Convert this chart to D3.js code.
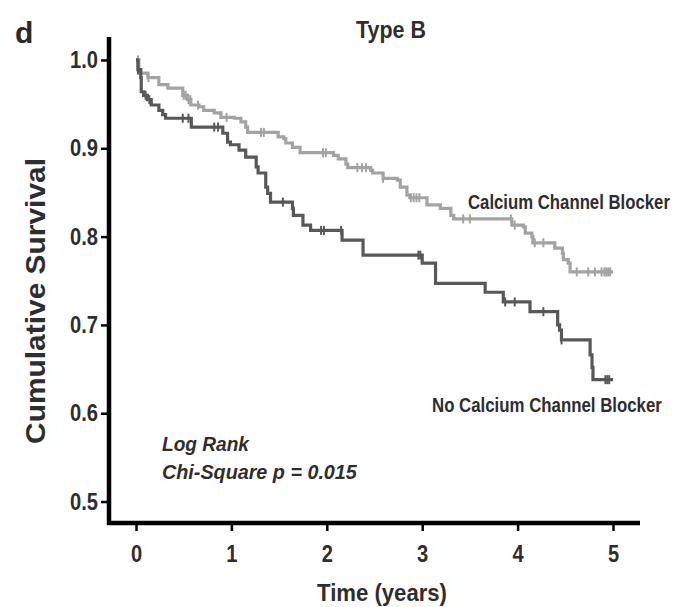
<!DOCTYPE html>
<html>
<head>
<meta charset="utf-8">
<script src="https://cdn.jsdelivr.net/npm/d3@7"></script>
<style>
  html, body { margin: 0; padding: 0; background: #fff; }
  svg { display: block; }
  .narrow { font-family: "Liberation Sans", Arial, sans-serif; font-weight: bold; }
</style>
</head>
<body>
<svg id="chart" width="676" height="607"></svg>
<script>
// Kaplan–Meier survival, Type B: calcium channel blocker vs none
const xTicks = [0, 1, 2, 3, 4, 5];
const yTicks = [0.5, 0.6, 0.7, 0.8, 0.9, 1.0];
const followUp = 5;

// [time (years), cumulative survival after the event]
const ccbSteps = [
  [0, 1.0], [0.03, 0.985], [0.125, 0.980], [0.24, 0.972], [0.335, 0.968],
  [0.49, 0.960], [0.54, 0.955], [0.575, 0.949], [0.66, 0.947], [0.71, 0.943],
  [0.82, 0.940], [0.89, 0.935], [1.03, 0.934], [1.10, 0.930], [1.15, 0.924],
  [1.17, 0.918], [1.49, 0.913], [1.55, 0.911], [1.57, 0.906], [1.64, 0.901],
  [1.72, 0.895], [2.07, 0.892], [2.12, 0.888], [2.20, 0.882], [2.22, 0.878],
  [2.46, 0.875], [2.48, 0.872], [2.59, 0.866], [2.74, 0.864], [2.77, 0.856],
  [2.84, 0.847], [2.87, 0.844], [3.05, 0.836], [3.19, 0.832], [3.30, 0.824],
  [3.33, 0.820], [3.94, 0.813], [4.06, 0.811], [4.08, 0.804], [4.15, 0.800],
  [4.16, 0.793], [4.39, 0.787], [4.47, 0.781], [4.48, 0.774], [4.53, 0.770],
  [4.55, 0.760]
];
const ccbCensored = [0.02, 0.13, 0.50, 0.52, 0.55, 0.57, 0.65, 0.95, 1.31, 1.34,
  1.96, 1.99, 2.32, 2.37, 2.41, 2.59, 2.88, 2.91, 2.94, 2.97, 3.43, 3.50, 3.93,
  3.97, 4.18, 4.27, 4.62, 4.74, 4.81, 4.88, 4.91, 4.93, 4.95, 4.97];

const noCcbSteps = [
  [0, 1.0], [0.02, 0.989], [0.05, 0.980], [0.055, 0.964], [0.08, 0.960],
  [0.12, 0.955], [0.16, 0.949], [0.24, 0.943], [0.28, 0.938], [0.31, 0.934],
  [0.58, 0.924], [0.91, 0.917], [0.96, 0.907], [0.99, 0.904], [1.08, 0.898],
  [1.15, 0.890], [1.26, 0.879], [1.28, 0.872], [1.36, 0.856], [1.38, 0.849],
  [1.41, 0.839], [1.64, 0.832], [1.65, 0.824], [1.75, 0.813], [1.83, 0.807],
  [2.16, 0.796], [2.38, 0.779], [3.00, 0.770], [3.14, 0.747], [3.66, 0.737],
  [3.85, 0.726], [4.13, 0.715], [4.42, 0.700], [4.44, 0.694], [4.46, 0.683],
  [4.76, 0.666], [4.78, 0.652], [4.79, 0.638]
];
const noCcbCensored = [0.02, 0.10, 0.14, 0.49, 0.55, 0.82, 0.86, 1.54, 1.94, 1.97,
  2.15, 2.96, 2.98, 3.87, 3.97, 4.27, 4.46, 4.92, 4.94, 4.96];

const seriesNames = ["Calcium Channel Blocker", "No Calcium Channel Blocker"];
const seriesColors = ["#a3a3a3", "#585858"];

const svg = d3.select("#chart");
const textColor = "#2e2e2e";

const x = d3.scaleLinear().domain([-0.283, 5.283]).range([109, 640]);
const y = d3.scaleLinear().domain([0.4757, 1.026]).range([523, 37]);

// survival value at a given time, for placing censor marks
function survivalAt(steps, t) {
  let s = steps[0][1];
  for (const [ti, si] of steps) { if (ti <= t) s = si; else break; }
  return s;
}

const line = d3.line()
  .x(d => x(d[0]))
  .y(d => y(d[1]))
  .curve(d3.curveStepAfter);

function drawSeries(steps, censored, color) {
  const pts = steps.concat([[followUp, steps[steps.length - 1][1]]]);
  svg.append("path")
    .datum(pts)
    .attr("d", line)
    .attr("fill", "none")
    .attr("stroke", color)
    .attr("stroke-width", 3.2)
    .attr("stroke-linejoin", "miter");
  svg.append("g")
    .selectAll("line")
    .data(censored)
    .join("line")
    .attr("x1", d => x(d)).attr("x2", d => x(d))
    .attr("y1", d => y(survivalAt(steps, d)) - 4.5)
    .attr("y2", d => y(survivalAt(steps, d)) + 4.5)
    .attr("stroke", color)
    .attr("stroke-width", 2);
}

drawSeries(ccbSteps, ccbCensored, seriesColors[0]);
drawSeries(noCcbSteps, noCcbCensored, seriesColors[1]);

// axes
const xAxis = svg.append("g")
  .attr("transform", "translate(0,523)")
  .call(d3.axisBottom(x).tickValues(xTicks).tickSize(8).tickPadding(14).tickFormat(d3.format("d")));
const yAxis = svg.append("g")
  .attr("transform", "translate(109,0)")
  .call(d3.axisLeft(y).tickValues(yTicks).tickSize(8).tickPadding(3).tickFormat(d3.format(".1f")));

// condensed lettering: narrow the glyphs about the text anchor
function condense(sel, factor) {
  sel.each(function () {
    const t = d3.select(this);
    const tx = +t.attr("x") || 0, ty = +t.attr("y") || 0;
    const ax = t.attr("text-anchor") === "end" ? -1 : 0;
    t.attr("transform", function () {
      const prev = this.getAttribute("transform") || "";
      return `${prev} translate(${tx},${ty}) scale(${factor},1) translate(${-tx},${-ty})`;
    });
  });
}

[xAxis, yAxis].forEach(g => {
  g.select(".domain").attr("stroke", "#000").attr("stroke-width", 4.5);
  g.selectAll(".tick line").attr("stroke", "#000").attr("stroke-width", 2.5);
  g.selectAll(".tick text")
    .attr("class", "narrow")
    .attr("fill", textColor)
    .style("font-size", "24px")
    .call(condense, 0.84);
});
xAxis.select(".domain").attr("d", "M107,0H640");
yAxis.select(".domain").attr("d", "M0,37V525");

// free text: set a target width and narrow the glyphs to fit it
function label(txt, xp, yp, size, width, opts = {}) {
  const g = svg.append("g").attr("transform", `translate(${xp},${yp})${opts.rotate ? " rotate(" + opts.rotate + ")" : ""}`);
  const t = g.append("text").attr("class", "narrow")
    .attr("font-size", size).attr("fill", textColor)
    .attr("text-anchor", opts.anchor || "start")
    .text(txt);
  if (opts.italic) t.attr("font-style", "italic");
  const natural = t.node().getComputedTextLength();
  t.attr("transform", `scale(${width / natural},1)`);
  return t;
}

svg.append("text").attr("x", 15).attr("y", 43)
  .attr("font-family", "Liberation Sans, Arial, sans-serif")
  .attr("font-weight", "bold").attr("font-size", 30).attr("fill", "#2a2a2a")
  .text("d");

label("Type B", 391, 38, 23, 70, { anchor: "middle" });
label("Cumulative Survival", 45, 301, 28, 286, { anchor: "middle", rotate: -90 });
label("Time (years)", 382, 601, 24, 130, { anchor: "middle" });
label(seriesNames[0], 468, 209, 20, 202);
label(seriesNames[1], 432, 412, 20, 230);
label("Log Rank", 162, 451, 21, 87, { italic: true });
label("Chi-Square p = 0.015", 162, 479, 21, 195, { italic: true });
</script>
</body>
</html>
